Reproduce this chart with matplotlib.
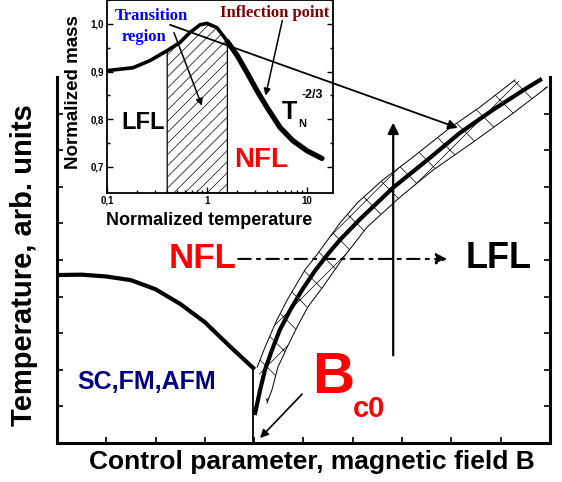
import matplotlib
matplotlib.use("Agg")
import matplotlib.pyplot as plt
from matplotlib.patches import ConnectionPatch

plt.rcParams['font.family'] = ['Liberation Sans', 'DejaVu Sans']
plt.rcParams['hatch.linewidth'] = 0.5

# main phase diagram (arbitrary units)
dome_B = [0.0, 0.5, 1.0, 1.5, 2.0, 2.5, 3.0, 3.5, 3.98]
dome_T = [4.59, 4.6, 4.55, 4.45, 4.2, 3.8, 3.3, 2.65, 2.05]

cross_B = [4.02, 4.12, 4.22, 4.36, 4.52, 4.73, 4.97, 5.23, 5.5, 5.74, 6.15, 6.82,
           7.51, 8.17, 8.84, 9.53, 9.8]
cross_T = [0.82, 1.45, 2.0, 2.54, 3.09, 3.63, 4.18, 4.7, 5.17, 5.55, 6.12, 6.98,
           7.73, 8.47, 9.1, 9.7, 9.92]

band_up_B = [4.06, 4.22, 4.46, 4.67, 5.03, 5.27, 5.74, 6.09, 6.61, 7.22, 7.91, 8.58, 9.29]
band_up_T = [2.07, 2.62, 3.36, 3.91, 4.73, 5.14, 6.01, 6.56, 7.19, 7.81, 8.55, 9.18, 9.92]
band_lo_B = [4.26, 4.36, 4.48, 4.67, 4.87, 5.09, 5.39, 5.8, 6.29, 6.96, 7.63, 8.44, 9.25, 9.95]
band_lo_T = [1.09, 1.45, 2.07, 2.62, 3.17, 3.72, 4.26, 5.05, 5.9, 6.72, 7.46, 8.22, 9.01, 9.73]

Bc0 = 3.98

# inset: normalized mass vs normalized temperature
tn = [0.1, 0.182, 0.269, 0.4, 0.537, 0.676, 0.851, 1.0, 1.26, 1.6, 2.0, 2.51,
      3.16, 3.98, 5.37, 7.24, 10.0, 14.1]
mn = [0.902, 0.908, 0.923, 0.944, 0.961, 0.982, 0.998, 1.001, 0.992, 0.963, 0.934,
      0.898, 0.86, 0.825, 0.783, 0.755, 0.734, 0.718]
trans_lo, trans_hi = 0.4, 1.6

fig = plt.figure(figsize=(5.62, 4.82), dpi=100)

ax = fig.add_axes([0.1014, 0.0809, 0.8772, 0.7593])
ax.set_xlim(0, 10)
ax.set_ylim(0, 10)
ax.set_xticks(range(1, 10))
ax.set_yticks(range(1, 10))
ax.tick_params(direction='in', length=4, width=1.2, right=True, labelleft=False, labelbottom=False)
ax.spines['top'].set_visible(False)
for s in ['left', 'bottom', 'right']:
    ax.spines[s].set_linewidth(2.2)

ax.plot(dome_B, dome_T, color='k', lw=3)
ax.plot([Bc0, Bc0], [dome_T[-1], 0], color='k', lw=1.3)

band_B = band_up_B + band_lo_B[::-1]
band_T = band_up_T + band_lo_T[::-1]
ax.fill(band_B, band_T, facecolor='none', edgecolor='k', lw=0, hatch='x')
ax.plot(band_up_B, band_up_T, color='k', lw=0.7)
ax.plot(band_lo_B, band_lo_T, color='k', lw=0.7)
ax.plot(cross_B, cross_T, color='k', lw=3, solid_joinstyle='round')

ax.annotate('', xy=(6.82, 8.83), xytext=(6.82, 2.32),
            arrowprops=dict(arrowstyle='-|>', color='k', lw=1.6, mutation_scale=16))
ax.annotate('', xy=(7.97, 5.03), xytext=(3.62, 5.03),
            arrowprops=dict(arrowstyle='-|>', color='k', lw=1.5, mutation_scale=16,
                            linestyle=(0, (6, 3, 1.5, 3))))
ax.annotate('', xy=(4.08, 0.08), xytext=(5.01, 1.39),
            arrowprops=dict(arrowstyle='-|>', color='k', lw=1.2, mutation_scale=12))

ax.text(2.96, 5.03, 'NFL', color='red', fontsize=25, fontweight='bold', ha='center', va='center')
ax.text(8.95, 5.03, 'LFL', color='k', fontsize=26, fontweight='bold', ha='center', va='center')
ax.text(1.82, 1.67, 'SC,FM,AFM', color='#000080', fontsize=18, fontweight='bold',
        ha='center', va='center')
ax.text(5.17, 1.37, 'B', color='red', fontsize=42, fontweight='bold', ha='left', va='baseline')
ax.text(6.0, 0.71, 'c0', color='red', fontsize=21, fontweight='bold', ha='left', va='baseline')

fig.text(24 / 562, 1 - 265 / 482, 'Temperature, arb. units', rotation=90, fontsize=21,
         fontweight='bold', ha='center', va='center')
fig.text(312 / 562, 1 - 462 / 482, 'Control parameter, magnetic field B', fontsize=19,
         fontweight='bold', ha='center', va='center')

# inset
ax_in = fig.add_axes([0.1904, 0.5996, 0.4021, 0.4004])
ax_in.set_xscale('log')
ax_in.set_xlim(0.1, 18.2)
ax_in.set_ylim(0.6455, 1.05)
ax_in.set_yticks([0.7, 0.8, 0.9, 1.0])
ax_in.set_yticklabels(['0,7', '0,8', '0,9', '1,0'])
ax_in.set_yticks([0.75, 0.85, 0.95, 1.05], minor=True)
ax_in.set_xticks([0.1, 1, 10])
ax_in.set_xticklabels(['0,1', '1', '10'])
ax_in.tick_params(which='both', direction='in', right=True, labelsize=7, width=1, pad=2)
ax_in.tick_params(which='major', length=4)
ax_in.tick_params(which='minor', length=2)
for lab in ax_in.get_xticklabels() + ax_in.get_yticklabels():
    lab.set_fontweight('bold')
for s in ax_in.spines.values():
    s.set_linewidth(1.3)

sel = [i for i, t in enumerate(tn) if trans_lo <= t <= trans_hi]
ax_in.fill_between([tn[i] for i in sel], 0.6455, [mn[i] for i in sel],
                   facecolor='white', edgecolor='k', lw=0.9, hatch='///')
k = tn.index(trans_hi)
ax_in.plot(tn[:k + 1], mn[:k + 1], color='k', lw=2.6, solid_capstyle='round',
           solid_joinstyle='round')
ax_in.plot(tn[k:], mn[k:], color='k', lw=3.8, solid_capstyle='round', solid_joinstyle='round')

ax_in.text(0.275, 1.017, 'Transition', color='blue', fontsize=12, fontweight='bold',
           family='Liberation Serif', ha='center', va='center')
ax_in.text(0.234, 0.973, 'region', color='blue', fontsize=12, fontweight='bold',
           family='Liberation Serif', ha='center', va='center')
ax_in.text(4.79, 1.023, 'Inflection point', color='#800000', fontsize=12, fontweight='bold',
           family='Liberation Serif', ha='center', va='center')
ax_in.text(0.229, 0.793, 'LFL', color='k', fontsize=17, fontweight='bold', ha='center', va='center')
ax_in.text(3.47, 0.715, 'NFL', color='red', fontsize=20, fontweight='bold', ha='center', va='center')
ax_in.text(5.62, 0.8015, 'T', color='k', fontsize=18, fontweight='bold', ha='left', va='baseline')
ax_in.text(8.13, 0.783, 'N', color='k', fontsize=8, fontweight='bold', ha='left', va='baseline')
ax_in.text(8.9, 0.845, '-2/3', color='k', fontsize=9, fontweight='bold', ha='left', va='baseline')

ax_in.annotate('', xy=(0.91, 0.823), xytext=(0.457, 0.987),
               arrowprops=dict(arrowstyle='-|>', color='k', lw=1.1, mutation_scale=10))
ax_in.annotate('', xy=(3.8, 0.844), xytext=(5.75, 1.013),
               arrowprops=dict(arrowstyle='-|>', color='k', lw=1.1, mutation_scale=10))

fig.text(74 / 562, 1 - 92 / 482, 'Normalized mass', rotation=90, fontsize=13.5,
         fontweight='bold', ha='center', va='center')
fig.text(209 / 562, 1 - 221 / 482, 'Normalized temperature', fontsize=13,
         fontweight='bold', ha='center', va='center')

con = ConnectionPatch(xyA=(0.427, 0.998), coordsA=ax_in.transData,
                      xyB=(8.13, 8.61), coordsB=ax.transData,
                      arrowstyle='-|>', color='k', lw=1.3, mutation_scale=14)
fig.add_artist(con)

fig.savefig("out.png", dpi=100)
plt.close(fig)
